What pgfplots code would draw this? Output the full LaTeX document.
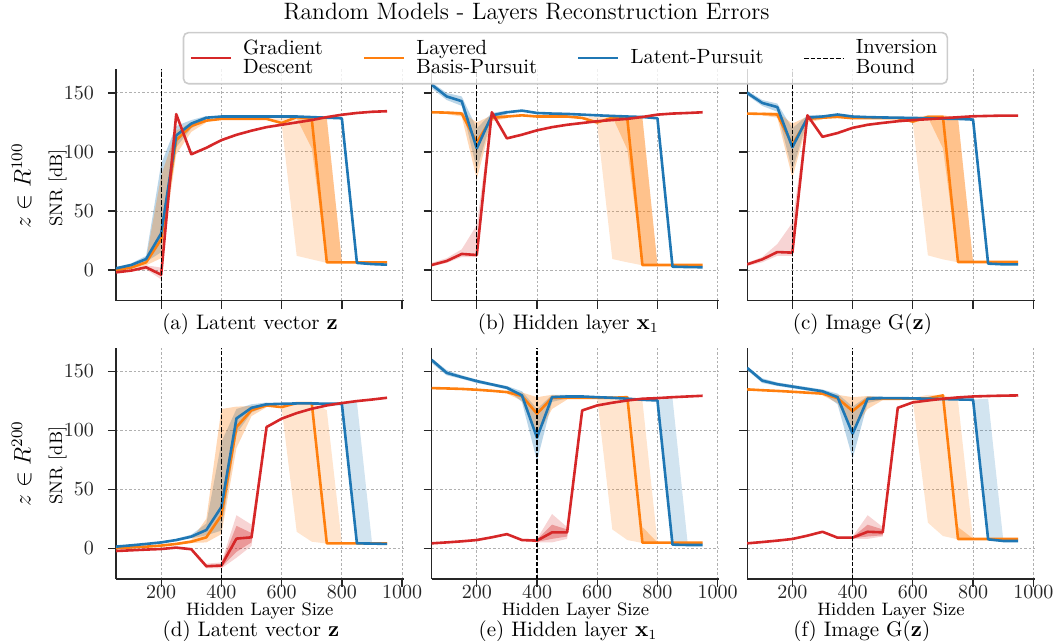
\documentclass[border=0pt]{standalone}
\usepackage{pgfplots}
\pgfplotsset{compat=1.18}
\definecolor{cR}{RGB}{214,39,40}
\definecolor{cO}{RGB}{255,127,14}
\definecolor{cB}{RGB}{31,119,180}
\definecolor{axc}{RGB}{38,38,38}
\definecolor{gridc}{RGB}{176,176,176}
\pgfplotsset{
  panel/.style={
    scale only axis, width=143.8pt, height=115.7pt,
    xmin=50, xmax=1005, ymin=-26, ymax=170,
    anchor=north west,
    axis lines*=left, axis line style={-, draw=axc, line width=0.65pt},
    xtick={200,400,600,800,1000}, ytick={0,50,100,150},
    tick align=outside, major tick length=4pt,
    tick style={draw=axc, line width=0.65pt},
    grid=major, major grid style={draw=gridc, line width=0.45pt, dash pattern=on 1.2pt off 1pt},
    tick label style={font=\fontsize{10}{12}\selectfont, text=axc},
    xticklabel style={inner sep=0pt, yshift=0.8pt},
    yticklabel style={xshift=-3.5pt},
    /pgf/number format/1000 sep={},
    scaled ticks=false,
  },
  lR/.style={draw=cR, line width=1.3pt, line join=round, forget plot},
  lO/.style={draw=cO, line width=1.3pt, line join=round, forget plot},
  lB/.style={draw=cB, line width=1.3pt, line join=round, forget plot},
  bR/.style={fill=cR, fill opacity=0.2, draw=none, forget plot},
  bRd/.style={fill=cR, fill opacity=0.35, draw=none, forget plot},
  bO/.style={fill=cO, fill opacity=0.2, draw=none, forget plot},
  bOd/.style={fill=cO, fill opacity=0.35, draw=none, forget plot},
  bOe/.style={fill=cO, fill opacity=0.3, draw=none, forget plot},
  bB/.style={fill=cB, fill opacity=0.2, draw=none, forget plot},
  bBe/.style={fill=cB, fill opacity=0.3, draw=none, forget plot},
  inv/.style={draw=black, line width=0.65pt, dash pattern=on 2.2pt off 1pt, forget plot},
}
\begin{document}
\begin{tikzpicture}
\path[use as bounding box] (0,0) rectangle (527.5pt,-320.5pt);
% ---------------- (a)
\begin{axis}[panel, at={(58pt,-34.65pt)}, xticklabels={}]
\addplot[bBe] coordinates {(50,2.5)(100,5.5)(150,12)(200,90)(250,122)(300,127)(350,130.5)(350,127.5)(300,120)(250,104)(200,15)(150,7)(100,3)(50,0.5)};
\addplot[bOe] coordinates {(50,1)(100,3)(150,9)(200,80)(250,118)(300,125)(350,128)(350,125)(300,117)(250,98)(200,10)(150,4)(100,1)(50,-1)};
\addplot[bR] coordinates {(100,0.5)(150,4)(200,2)(250,134)(250,128)(200,-8)(150,0.5)(100,-1.5)};
\addplot[bO] coordinates {(550,128.5)(600,128.5)(650,130)(700,130)(750,128.5)(800,6.8)(800,6)(750,6)(700,9)(650,12)(600,124)(550,127.5)};
\addplot[bOd] coordinates {(650,130)(700,129.5)(750,128.5)(800,6.8)(800,6)(750,6)(700,103)(650,128.5)};
\addplot[lO] coordinates {(50,0)(100,2)(150,6.5)(200,26)(250,110)(300,122)(350,126.5)(400,128)(450,128)(500,128)(550,128)(600,124.5)(650,129.5)(700,128)(750,6.5)(800,6.5)(850,6.5)(900,6.5)(950,6.5)};
\addplot[lB] coordinates {(50,1.4)(100,4.2)(150,9.3)(200,31)(250,114)(300,124)(350,129)(400,130)(450,130)(500,130)(550,130)(600,130)(650,130)(700,129.5)(750,129)(800,128.5)(850,6)(900,5)(950,4.5)};
\addplot[lR] coordinates {(50,-2)(100,-0.5)(150,2.3)(200,-4)(250,132)(300,98)(350,103.5)(400,110)(450,114.5)(500,118)(550,121)(600,123)(650,125)(700,127)(750,129.5)(800,131.5)(850,133)(900,134)(950,134.5)};
\addplot[inv] coordinates {(200,-26)(200,170)};
\end{axis}
% ---------------- (b)
\begin{axis}[panel, at={(215.8pt,-34.65pt)}, xticklabels={}, yticklabels={}]
\addplot[bBe] coordinates {(50,159)(100,150)(150,147)(200,120)(250,133)(300,135)(300,132)(250,128)(200,85)(150,139)(100,144)(50,154)};
\addplot[bOe] coordinates {(100,134.5)(150,134)(200,125)(250,131)(300,131.5)(300,128.5)(250,126)(200,77)(150,130)(100,132)};
\addplot[bR] coordinates {(50,6)(100,10)(150,17.5)(200,38)(250,134.5)(250,131)(200,11)(150,11)(100,6)(50,3)};
\addplot[bO] coordinates {(550,129.5)(600,129.5)(650,130.5)(700,130)(750,129)(800,4.5)(800,4)(750,4)(700,6.5)(650,9.3)(600,123)(550,128)};
\addplot[bOd] coordinates {(650,131)(700,130)(750,129)(800,4.5)(800,4)(750,4)(700,102)(650,130)};
\addplot[lO] coordinates {(50,133.6)(100,133.3)(150,132.5)(200,108)(250,128.8)(300,130)(350,131)(400,130)(450,130)(500,130)(550,128.8)(600,125)(650,129)(700,128)(750,4.2)(800,4.2)(850,4.2)(900,4.2)(950,4.2)};
\addplot[lB] coordinates {(50,157)(100,147)(150,143)(200,103)(250,131)(300,133.6)(350,135)(400,133)(450,132.5)(500,132.2)(550,131.6)(600,131)(650,130.5)(700,130)(750,129.6)(800,128.5)(850,2.8)(900,2.5)(950,2.3)};
\addplot[lR] coordinates {(50,4.2)(100,7.6)(150,13.6)(200,12.7)(250,133.6)(300,111.5)(350,114.6)(400,118.3)(450,121)(500,123)(550,124.5)(600,126)(650,127)(700,128)(750,129.6)(800,131.6)(850,132.5)(900,133)(950,133.6)};
\addplot[inv] coordinates {(200,-26)(200,170)};
\end{axis}
% ---------------- (c)
\begin{axis}[panel, at={(373.6pt,-34.65pt)}, xticklabels={}, yticklabels={},
  legend columns=4,
  legend image code/.code={\draw[#1] (0pt,0pt) -- (20pt,0pt);},
  legend style={at={(-1.9628,1.162)}, anchor=north west, draw=black!20, line width=0.8pt,
    rounded corners=2.5pt, fill=white, fill opacity=0.8, text opacity=1,
    font=\fontsize{10.3}{9.8}\selectfont, cells={align=left, anchor=west},
    inner xsep=3pt, inner ysep=1.5pt,
    /tikz/every odd column/.append style={column sep=3.5pt},
    /tikz/every even column/.append style={column sep=18pt}},
]
\addlegendimage{draw=cR, line width=1.3pt}
\addlegendentry{Gradient\\Descent}
\addlegendimage{draw=cO, line width=1.3pt}
\addlegendentry{Layered\\Basis-Pursuit}
\addlegendimage{draw=cB, line width=1.3pt}
\addlegendentry{Latent-Pursuit}
\addlegendimage{draw=black, line width=0.65pt, dash pattern=on 2.2pt off 1pt}
\addlegendentry{Inversion\\Bound}
\addplot[bBe] coordinates {(50,152)(100,144)(150,141)(200,120)(250,131)(300,131.5)(300,128.5)(250,127)(200,84)(150,134)(100,139)(50,148)};
\addplot[bOe] coordinates {(100,133.5)(150,133.5)(200,124)(250,130)(300,130.5)(300,127.5)(250,125)(200,78)(150,129)(100,131)};
\addplot[bR] coordinates {(50,6)(100,11)(150,22)(200,40)(250,132)(250,129)(200,12)(150,12)(100,6.5)(50,3.5)};
\addplot[bO] coordinates {(550,129.5)(600,129.5)(650,131)(700,131)(750,129)(800,7.2)(800,6.5)(750,6.5)(700,9)(650,12.4)(600,124.5)(550,128)};
\addplot[bOd] coordinates {(650,131)(700,131)(750,129)(800,7.2)(800,6.5)(750,6.5)(700,103)(650,129.5)};
\addplot[lO] coordinates {(50,132.5)(100,132.2)(150,131.7)(200,106)(250,128)(300,129)(350,129.7)(400,128.6)(450,128.6)(500,128.6)(550,128.6)(600,125.7)(650,129.7)(700,129.7)(750,6.8)(800,6.8)(850,6.8)(900,6.8)(950,6.8)};
\addplot[lB] coordinates {(50,150)(100,141.5)(150,138)(200,104)(250,129)(300,130)(350,131.7)(400,130)(450,129.5)(500,129.2)(550,129)(600,128.8)(650,128.5)(700,128.2)(750,128)(800,127.4)(850,5.4)(900,4.8)(950,4.8)};
\addplot[lR] coordinates {(50,4.8)(100,9)(150,15.2)(200,14.7)(250,131)(300,112.8)(350,116)(400,120.4)(450,123)(500,124.6)(550,126)(600,127)(650,127.7)(700,128.6)(750,129.4)(800,130.2)(850,130.5)(900,130.8)(950,130.8)};
\addplot[inv] coordinates {(200,-26)(200,170)};
\end{axis}
% ---------------- (d)
\begin{axis}[panel, at={(58pt,-173.8pt)}]
\addplot[bBe] coordinates {(250,8)(300,11.5)(350,21)(400,90)(450,118)(500,122)(550,123.5)(550,120.5)(500,115)(450,97)(400,15)(350,11)(300,8.5)(250,6)};
\addplot[bOe] coordinates {(250,4.5)(300,7)(350,25)(400,118)(450,120)(500,120.5)(550,122)(550,119.5)(500,112)(450,85)(400,12)(350,5)(300,4.5)(250,3)};
\addplot[bR] coordinates {(300,0)(350,-13)(400,-12)(450,28)(500,20)(550,106)(550,99)(500,2)(450,-8)(400,-17)(350,-17)(300,-1.5)};
\addplot[bRd] coordinates {(400,-13)(450,19)(500,13)(550,104)(550,101)(500,5)(450,-3)(400,-16)};
\addplot[bO] coordinates {(600,121)(650,123.5)(700,123.5)(750,117)(800,4.6)(800,4)(750,4)(700,5.6)(650,14)(600,119)};
\addplot[bB] coordinates {(800,122.6)(850,124)(900,5)(900,3.5)(850,4)(800,122.2)};
\addplot[lO] coordinates {(50,0)(100,0.8)(150,1.4)(200,2.3)(250,3.7)(300,5.6)(350,9.3)(400,28)(450,102.7)(500,117)(550,121)(600,119.6)(650,123)(700,123)(750,4.2)(800,4.2)(850,4.2)(900,4.2)(950,4.2)};
\addplot[lB] coordinates {(50,1.4)(100,2.5)(150,3.7)(200,5)(250,7)(300,9.9)(350,15.5)(400,35)(450,110)(500,119)(550,122)(600,122.4)(650,122.7)(700,122.7)(750,122.5)(800,122.4)(850,4.2)(900,4)(950,3.7)};
\addplot[lR] coordinates {(50,-2.3)(100,-1.7)(150,-1.1)(200,-0.6)(250,0.6)(300,-0.8)(350,-15.2)(400,-14.6)(450,8.2)(500,9.3)(550,102.7)(600,109.8)(650,114.5)(700,118.2)(750,121)(800,123)(850,124.7)(900,126)(950,127.5)};
\addplot[inv] coordinates {(400,-26)(400,170)};
\end{axis}
% ---------------- (e)
\begin{axis}[panel, at={(215.8pt,-173.8pt)}, yticklabels={}]
\addplot[bBe] coordinates {(50,161)(100,151)(150,146.5)(200,143)(250,140)(300,137.5)(350,133)(400,118)(450,130)(500,130)(500,127)(450,124)(400,74)(350,124)(300,134.5)(250,137.5)(200,140)(150,143.5)(100,146.5)(50,157)};
\addplot[bOe] coordinates {(300,133.5)(350,132)(400,128)(450,130)(500,129)(500,126)(450,118)(400,95)(350,125)(300,131)};
\addplot[bR] coordinates {(350,8)(400,8)(450,29)(500,18)(550,119)(550,114)(500,8)(450,5)(400,5)(350,6)};
\addplot[bRd] coordinates {(400,7.5)(450,20)(500,16)(550,118)(550,115)(500,10)(450,8)(400,5.5)};
\addplot[bO] coordinates {(600,128)(650,128)(700,128.5)(750,125)(800,5.2)(800,4.5)(750,4.5)(700,7)(650,16)(600,126.5)};
\addplot[bOd] coordinates {(750,18)(800,5)(750,4.6)};
\addplot[bB] coordinates {(800,125.5)(850,127)(900,5)(900,2.5)(850,2.8)(800,125)};
\addplot[lO] coordinates {(50,135.7)(100,135.4)(150,135)(200,134.3)(250,133.4)(300,132.3)(350,129)(400,114)(450,127.5)(500,127.5)(550,127.5)(600,127.5)(650,127.5)(700,128)(750,4.8)(800,4.8)(850,4.8)(900,4.8)(950,4.8)};
\addplot[lB] coordinates {(50,159.6)(100,148.6)(150,145)(200,141.6)(250,138.8)(300,136)(350,129.5)(400,93.7)(450,128)(500,128.6)(550,128.6)(600,128)(650,127.5)(700,126.7)(750,125.8)(800,125.2)(850,3.1)(900,2.8)(950,2.8)};
\addplot[lR] coordinates {(50,4.2)(100,5)(150,5.9)(200,7)(250,9.3)(300,12)(350,7)(400,6.5)(450,13.5)(500,13.5)(550,116.8)(600,121)(650,123.3)(700,125.2)(750,126.7)(800,127.2)(850,128)(900,128.6)(950,129.2)};
\addplot[inv] coordinates {(400,-26)(400,170)};
\end{axis}
% ---------------- (f)
\begin{axis}[panel, at={(373.6pt,-173.8pt)}, yticklabels={}]
\addplot[bBe] coordinates {(50,154)(100,144)(150,140.5)(200,138.5)(250,136.5)(300,134.5)(350,131)(400,120)(450,129)(500,129)(500,126)(450,123)(400,76)(350,122)(300,131.5)(250,133.5)(200,135.5)(150,137.5)(100,140)(50,151)};
\addplot[bOe] coordinates {(300,132)(350,130)(400,128)(450,129)(500,128)(500,125.5)(450,118)(400,100)(350,123)(300,129.5)};
\addplot[bR] coordinates {(350,10)(400,10)(450,28)(500,18)(550,121)(550,117)(500,10)(450,8)(400,8)(350,8)};
\addplot[bRd] coordinates {(400,9.5)(450,20)(500,16)(550,120)(550,118)(500,11)(450,10)(400,8.5)};
\addplot[bO] coordinates {(600,127.5)(650,130)(700,130)(750,125)(800,8.2)(800,7.6)(750,7.6)(700,10.4)(650,21.7)(600,125)};
\addplot[bOd] coordinates {(750,18)(800,8.2)(750,7.7)};
\addplot[bB] coordinates {(800,126)(850,126.7)(900,7.6)(900,6)(850,7.6)(800,125.5)};
\addplot[lO] coordinates {(50,134.6)(100,133.9)(150,133.3)(200,132.6)(250,131.8)(300,131)(350,127.2)(400,116.3)(450,126.7)(500,126.7)(550,126.7)(600,126.8)(650,127)(700,129.5)(750,7.9)(800,7.9)(850,7.9)(900,7.9)(950,7.9)};
\addplot[lB] coordinates {(50,152.8)(100,142)(150,139)(200,137)(250,135)(300,133)(350,128)(400,97)(450,126.7)(500,127.2)(550,127.2)(600,127)(650,126.7)(700,126.4)(750,126.1)(800,125.8)(850,7.6)(900,6.2)(950,6.2)};
\addplot[lR] coordinates {(50,4.2)(100,5.3)(150,6.5)(200,7.9)(250,10.7)(300,14)(350,9)(400,9)(450,14)(500,13.5)(550,119)(600,123.6)(650,125.2)(700,126.7)(750,127.8)(800,128.6)(850,129)(900,129.3)(950,129.5)};
\addplot[inv] coordinates {(400,-26)(400,170)};
\end{axis}
% ---------------- texts
\node[anchor=base, font=\fontsize{11.85}{14}\selectfont] at (263.25pt,-9.9pt) {Random Models - Layers Reconstruction Errors};
\begin{scope}[every node/.style={anchor=base, font=\fontsize{10.5}{12}\selectfont}]
\node at (125pt,-164.75pt) {(a) Latent vector $\mathbf{z}$};
\node at (284.2pt,-164.75pt) {(b) Hidden layer $\mathbf{x}_1$};
\node at (431.2pt,-164.75pt) {(c) Image G($\mathbf{z}$)};
\node at (125.5pt,-318pt) {(d) Latent vector $\mathbf{z}$};
\node at (284pt,-318pt) {(e) Hidden layer $\mathbf{x}_1$};
\node at (430.9pt,-318pt) {(f) Image G($\mathbf{z}$)};
\end{scope}
\begin{scope}[every node/.style={anchor=base, inner sep=0pt, font=\fontsize{9}{11}\selectfont}]
\node at (129.9pt,-307.6pt) {Hidden Layer Size};
\node at (287.7pt,-307.6pt) {Hidden Layer Size};
\node at (445.5pt,-307.6pt) {Hidden Layer Size};
\end{scope}
\node[rotate=90, font=\fontsize{9}{11}\selectfont] at (28.75pt,-94pt) {SNR [dB]};
\node[rotate=90, font=\fontsize{9}{11}\selectfont] at (28.75pt,-232.75pt) {SNR [dB]};
\node[rotate=90, font=\fontsize{11.5}{13}\selectfont] at (10.85pt,-93pt) {$z \in R^{100}$};
\node[rotate=90, font=\fontsize{11.5}{13}\selectfont] at (10.85pt,-231.75pt) {$z \in R^{200}$};
\end{tikzpicture}
\end{document}
